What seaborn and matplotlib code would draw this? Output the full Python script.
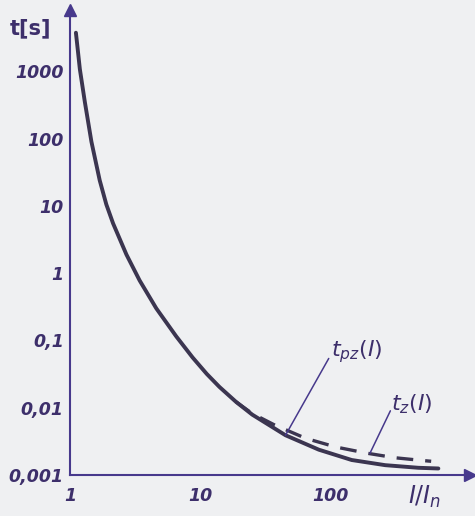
import matplotlib
matplotlib.use("Agg")
import matplotlib.pyplot as plt
from matplotlib.ticker import NullLocator
import seaborn as sns
import pandas as pd

# values (I/In, t in s)
solid_I = [1.11, 1.15, 1.19, 1.30, 1.46, 1.69, 1.90, 2.14, 2.71, 3.42, 4.59, 6.53, 8.73,
           11.2, 14, 18.8, 25, 45, 81, 145, 262, 470, 670]
solid_t = [3750, 2000, 1080, 350, 90, 24, 10.5, 5.5, 1.89, 0.78, 0.30, 0.115, 0.0557,
           0.0318, 0.0204, 0.0122, 0.0079, 0.0039, 0.00238, 0.00167, 0.0014, 0.00128, 0.00125]

dashed_I = [18.8, 25, 36.7, 64.5, 110, 192, 315, 510, 590]
dashed_t = [0.0122, 0.0082, 0.0056, 0.0035, 0.0026, 0.0021, 0.0018, 0.00164, 0.0016]

x_ticks = [1, 10, 100]
x_labels = ["1", "10", "100"]
y_ticks = [0.001, 0.01, 0.1, 1, 10, 100, 1000]
y_labels = ["0,001", "0,01", "0,1", "1", "10", "100", "1000"]

bg = "#eff0f2"
ink = "#47398c"
text_ink = "#3d2f6b"
curve = "#3b3550"

sns.set_style("white")
plt.rcParams["font.family"] = ["DejaVu Sans"]

solid = pd.DataFrame({"I": solid_I, "t": solid_t})
dashed = pd.DataFrame({"I": dashed_I, "t": dashed_t})

fig = plt.figure(figsize=(4.75, 5.16), dpi=100, facecolor=bg)
ax = fig.add_axes([70 / 475, 41 / 516, 400 / 475, 465 / 516], facecolor=bg)
ax.set_xscale("log")
ax.set_yscale("log")

sns.lineplot(data=dashed, x="I", y="t", ax=ax, sort=False, estimator=None,
             color=curve, linewidth=2.4, linestyle=(0, (5.0, 3.6)))
sns.lineplot(data=solid, x="I", y="t", ax=ax, sort=False, estimator=None,
             color=curve, linewidth=2.8, solid_capstyle="round", solid_joinstyle="round")

ax.set_xlim(1, 10 ** (402 / 131))
ax.set_ylim(1e-3, 10 ** (3 + 62 / 68))

for s in ["top", "right"]:
    ax.spines[s].set_visible(False)
for s in ["left", "bottom"]:
    ax.spines[s].set_color(ink)
    ax.spines[s].set_linewidth(1.5)

# arrow heads on the axes
ax.plot(1, 0, ">", transform=ax.transAxes, clip_on=False, color=ink, ms=9)
ax.plot(0, 1, "^", transform=ax.transAxes, clip_on=False, color=ink, ms=8)

ax.xaxis.set_minor_locator(NullLocator())
ax.yaxis.set_minor_locator(NullLocator())
ax.set_xticks(x_ticks)
ax.set_xticklabels(x_labels)
ax.set_yticks(y_ticks)
ax.set_yticklabels(y_labels)
ax.tick_params(axis="both", direction="inout", length=7, width=1.5, color=ink,
               labelcolor=text_ink, labelsize=12.5)
ax.tick_params(axis="y", pad=1)
ax.tick_params(axis="x", pad=5)
for lab in ax.get_xticklabels() + ax.get_yticklabels():
    lab.set_fontstyle("italic")
    lab.set_fontweight("bold")
ax.set_xlabel("")
ax.set_ylabel("")

# leader lines and curve names
ax.plot([45, 96.6], [0.0039, 0.054], color=ink, linewidth=1.1)
ax.text(100, 0.069, "$t_{pz}(I)$", color=text_ink, fontsize=16, va="center", ha="left")
ax.plot([200, 287], [0.0021, 0.0090], color=ink, linewidth=1.1)
ax.text(290, 0.0114, "$t_{z}(I)$", color=text_ink, fontsize=16, va="center", ha="left")

fig.text(10 / 475, 1 - 28 / 516, "t[s]", color=text_ink, fontsize=15, fontweight="bold",
         va="center", ha="left")
fig.text(408 / 475, 1 - 497 / 516, "$I/I_n$", color=text_ink, fontsize=17, va="center", ha="left")

fig.savefig("out.png", dpi=100, facecolor=bg)
